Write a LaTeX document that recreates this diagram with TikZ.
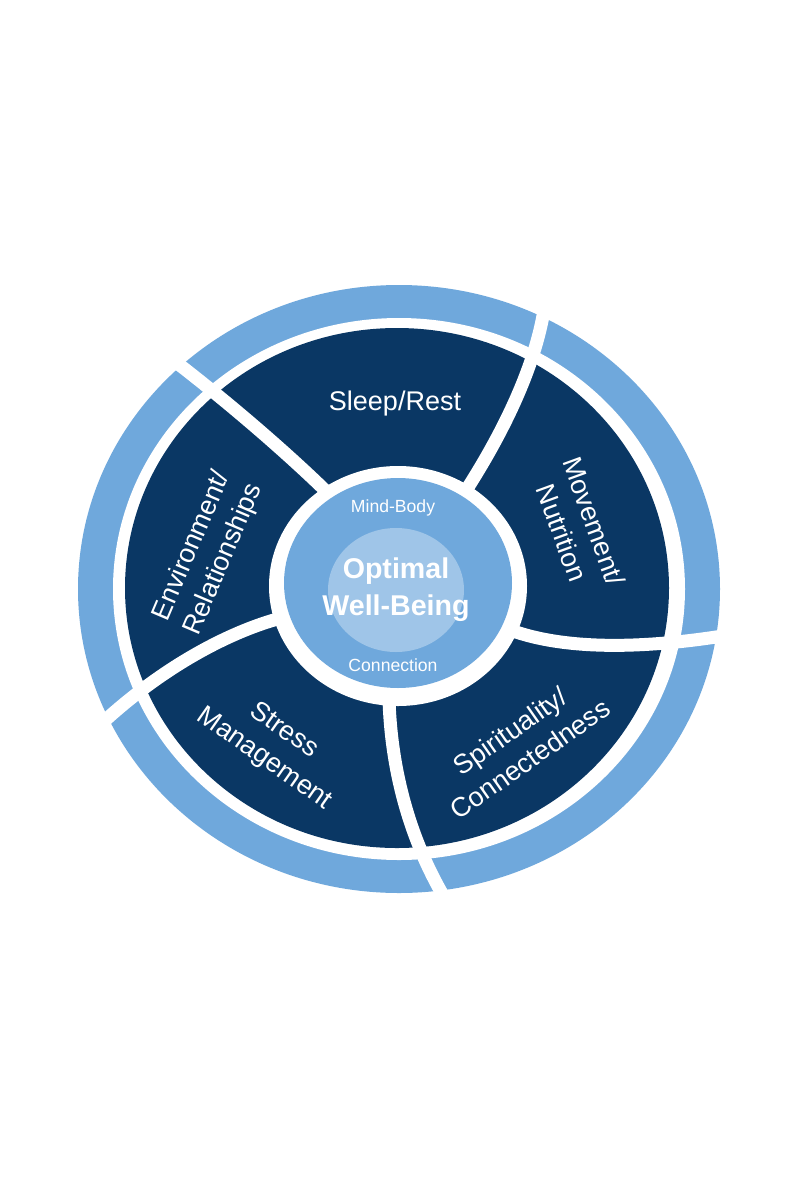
\documentclass[tikz,border=0pt]{standalone}
\usepackage{fontspec}
\setmainfont{Liberation Sans}
\definecolor{navy}{HTML}{0A3764}
\definecolor{lblue}{HTML}{6FA8DC}
\definecolor{pblue}{HTML}{9FC5E8}
\begin{document}
\begin{tikzpicture}[x=0.5pt,y=-0.5pt,
  sepline/.style={white, line width=6.5pt},
  seglabel/.style={text=white, font=\fontsize{13.5}{17}\selectfont, align=center, inner sep=0pt},
  smalllabel/.style={text=white, font=\fontsize{8.8}{10}\selectfont, inner sep=0pt},
  biglabel/.style={text=white, font=\bfseries\fontsize{14.3}{18.5}\selectfont, align=center, inner sep=0pt}]
\useasboundingbox (0,0) rectangle (800,1200);
\fill[white] (0,0) rectangle (800,1200);
% outer light ring
\fill[lblue] (399,589) ellipse [x radius=321, y radius=304];
\fill[white] (399,589) ellipse [x radius=286, y radius=271];
% dark disc
\fill[navy] (397,588) ellipse [x radius=272, y radius=260];
% separators
\coordinate (s1a) at (335,500);
\coordinate (s1b) at (160,350);
\draw[sepline] (s1a) .. controls (290,455) and (220,395) .. (s1b);
\coordinate (s2a) at (465,492);
\coordinate (s2b) at (547,280);
\draw[sepline] (s2a) .. controls (505,430) and (545,350) .. (s2b);
\coordinate (s3a) at (505,628);
\coordinate (s3b) at (735,634);
\draw[sepline] (s3a) .. controls (560,650) and (640,650) .. (s3b);
\coordinate (s4a) at (389,700);
\coordinate (s4b) at (452,910);
\draw[sepline] (s4a) .. controls (392,790) and (420,860) .. (s4b);
\coordinate (s5a) at (285,617);
\coordinate (s5b) at (100,725);
\draw[sepline] (s5a) .. controls (240,628) and (170,660) .. (s5b);
% centre
\fill[white] (398,586) ellipse [x radius=129, y radius=120];
\fill[lblue] (398,583) ellipse [x radius=114, y radius=105];
\fill[pblue] (396,590) ellipse [x radius=68, y radius=62];
% labels
\node[seglabel] (sleep) at (395,404) {Sleep/Rest};
\node[seglabel, rotate=-70] (move) at (578,527) {Movement/\\Nutrition};
\node[seglabel, rotate=35] (spir) at (520,745) {Spirituality/\\Connectedness};
\node[seglabel, rotate=-35] (stress) at (274,745) {Stress\\Management};
\node[seglabel, rotate=67] (env) at (208,553) {Environment/\\Relationships};
\node[smalllabel] (mind) at (393,508) {Mind-Body};
\node[smalllabel] (conn) at (393,665) {Connection};
\node[biglabel] (opt) at (396,590) {Optimal\\Well-Being};
\end{tikzpicture}
\end{document}
